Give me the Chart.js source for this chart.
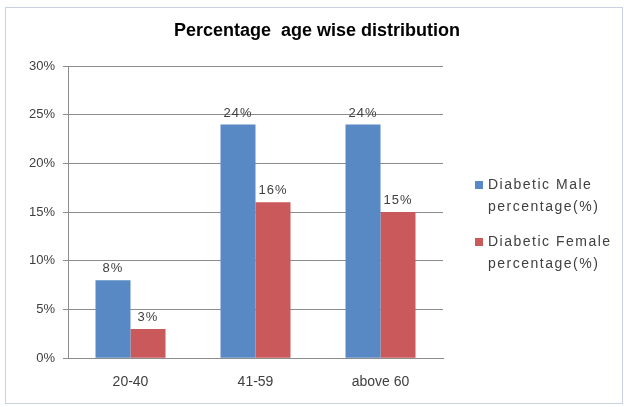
<!DOCTYPE html>
<html>
<head>
<meta charset="utf-8">
<script src="https://cdn.jsdelivr.net/npm/chart.js@4/dist/chart.umd.min.js"></script>
<style>
  html, body { margin: 0; padding: 0; background: #fff; }
  #wrap { position: relative; width: 624px; height: 407px; }
  #frame { position: absolute; left: 5px; top: 7px; width: 616px; height: 395px; border: 1px solid #c9d3e0; pointer-events: none; }
</style>
</head>
<body>
<div id="wrap">
  <canvas id="ageChart" width="624" height="407"></canvas>
  <div id="frame"></div>
</div>
<script>
const titleText = 'Percentage  age wise distribution';
const ageGroups = ['20-40', '41-59', 'above 60'];
const maleValues = [8, 24, 24];
const femaleValues = [3, 16, 15];
const seriesNames = [['Diabetic Male', 'percentage(%)'], ['Diabetic Female', 'percentage(%)']];
const seriesColors = ['#5889c4', '#c9595a'];
const textColor = '#404040';
const font = 'Liberation Sans, Arial, sans-serif';

// value labels above each bar
const barLabels = {
  id: 'barLabels',
  afterDatasetsDraw(chart) {
    const ctx = chart.ctx;
    ctx.save();
    ctx.font = '13px ' + font;
    ctx.letterSpacing = '1px';
    ctx.fillStyle = textColor;
    ctx.textAlign = 'center';
    ctx.textBaseline = 'bottom';
    chart.data.datasets.forEach((ds, i) => {
      chart.getDatasetMeta(i).data.forEach((bar, j) => {
        ctx.fillText(ds.data[j] + '%', bar.x, bar.y - 5);
      });
    });
    ctx.restore();
  }
};

// title across the whole frame, legend at the right
const sideParts = {
  id: 'sideParts',
  afterDraw(chart) {
    const ctx = chart.ctx;
    ctx.save();
    ctx.font = 'bold 18px ' + font;
    ctx.fillStyle = '#000';
    ctx.textAlign = 'center';
    ctx.textBaseline = 'middle';
    ctx.fillText(titleText, 317, 31);
    ctx.textAlign = 'left';
    ctx.font = '14px ' + font;
    ctx.letterSpacing = '1.5px';
    seriesNames.forEach((lines, i) => {
      const y = 185 + i * 57;
      ctx.fillStyle = seriesColors[i];
      ctx.fillRect(475, y - 4, 8, 8);
      ctx.fillStyle = textColor;
      lines.forEach((t, k) => ctx.fillText(t, 488, y + k * 22));
    });
    ctx.restore();
  }
};

new Chart(document.getElementById('ageChart'), {
  type: 'bar',
  data: {
    labels: ageGroups,
    datasets: [
      { label: seriesNames[0].join(' '), data: maleValues, backgroundColor: seriesColors[0] },
      { label: seriesNames[1].join(' '), data: femaleValues, backgroundColor: seriesColors[1] }
    ]
  },
  options: {
    responsive: false,
    animation: false,
    layout: { padding: { left: 10, right: 181, top: 66, bottom: 8 } },
    datasets: { bar: { categoryPercentage: 0.56, barPercentage: 1 } },
    plugins: {
      legend: { display: false },
      tooltip: { enabled: false },
      title: { display: false }
    },
    scales: {
      x: {
        grid: { display: false },
        border: { color: '#8c8c8c' },
        ticks: { color: textColor, font: { family: font, size: 14 }, padding: 8 }
      },
      y: {
        min: 0,
        max: 30,
        afterFit: s => { s.width = 58; },
        grid: { color: '#8c8c8c', tickLength: 5, drawTicks: true },
        border: { color: '#8c8c8c' },
        ticks: {
          stepSize: 5,
          color: textColor,
          padding: 8,
          font: { family: font, size: 13 },
          callback: v => v + '%'
        }
      }
    }
  },
  plugins: [barLabels, sideParts]
});
</script>
</body>
</html>
